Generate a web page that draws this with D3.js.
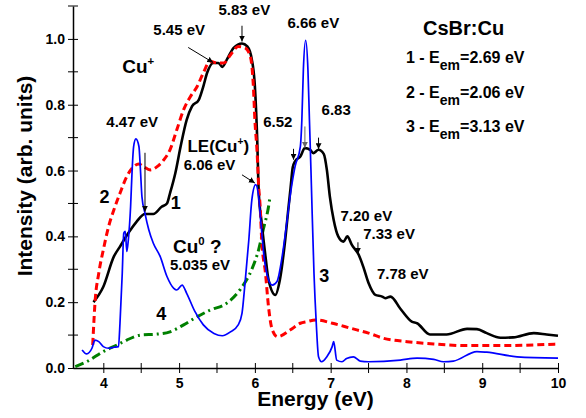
<!DOCTYPE html>
<html>
<head>
  <meta charset="utf-8">
  <title>CsBr:Cu excitation spectra</title>
  <style>
    body { margin: 0; background: #fff; }
    text { font-family: Arial, "Liberation Sans", sans-serif; }
  </style>
</head>
<body>
  <svg id="main" width="586" height="418"></svg>

  <script src="https://cdn.jsdelivr.net/npm/d3@7"></script>
  <script>
    // spectrum 1 (E_em = 2.69 eV), black solid: [energy, intensity]
    const curve1 = [
      [3.87, 0.200], [4.00, 0.247], [4.14, 0.339], [4.22, 0.369], [4.33, 0.410], [4.44, 0.445],
      [4.55, 0.468], [4.66, 0.468], [4.77, 0.490], [4.84, 0.500], [4.88, 0.531], [4.95, 0.592],
      [5.02, 0.673], [5.10, 0.754], [5.17, 0.795], [5.26, 0.815], [5.32, 0.856], [5.37, 0.897],
      [5.45, 0.927], [5.52, 0.927], [5.57, 0.915], [5.63, 0.937], [5.72, 0.973], [5.83, 0.986],
      [5.90, 0.977], [5.96, 0.937], [6.00, 0.856], [6.03, 0.700], [6.05, 0.540], [6.09, 0.440],
      [6.14, 0.339], [6.18, 0.268], [6.27, 0.222], [6.33, 0.268], [6.40, 0.389], [6.44, 0.480],
      [6.47, 0.545], [6.50, 0.610], [6.53, 0.628], [6.60, 0.643], [6.66, 0.668], [6.73, 0.663],
      [6.77, 0.653], [6.84, 0.663], [6.91, 0.650], [6.95, 0.602], [6.99, 0.520], [7.04, 0.450],
      [7.10, 0.400], [7.17, 0.384], [7.22, 0.400], [7.28, 0.374], [7.37, 0.344], [7.43, 0.308],
      [7.50, 0.258], [7.59, 0.222], [7.68, 0.217], [7.72, 0.212], [7.79, 0.217], [7.92, 0.180],
      [8.07, 0.141], [8.14, 0.136], [8.31, 0.102], [8.53, 0.102], [8.80, 0.119], [8.93, 0.118],
      [9.06, 0.106], [9.24, 0.092], [9.41, 0.093], [9.68, 0.106], [9.85, 0.102], [10.0, 0.098]
    ]

    // spectrum 2 (E_em = 2.06 eV), red dashed
    const curve2 = [
      [3.86, 0.070], [3.87, 0.116], [3.89, 0.197], [3.94, 0.288], [4.00, 0.359], [4.07, 0.430],
      [4.14, 0.481], [4.22, 0.531], [4.31, 0.582], [4.40, 0.612], [4.47, 0.620], [4.53, 0.612],
      [4.62, 0.602], [4.71, 0.612], [4.80, 0.633], [4.88, 0.663], [4.97, 0.724], [5.06, 0.785],
      [5.15, 0.825], [5.24, 0.856], [5.32, 0.897], [5.41, 0.932], [5.50, 0.927], [5.59, 0.927],
      [5.68, 0.952], [5.78, 0.977], [5.87, 0.973], [5.94, 0.947], [5.98, 0.856], [6.00, 0.754],
      [6.03, 0.653], [6.05, 0.552], [6.07, 0.490], [6.09, 0.389], [6.14, 0.288], [6.18, 0.186],
      [6.23, 0.116], [6.30, 0.095], [6.47, 0.116], [6.60, 0.136], [6.69, 0.141], [6.80, 0.146],
      [7.04, 0.135], [7.26, 0.121], [7.50, 0.106], [7.70, 0.090], [8.01, 0.080], [8.36, 0.073],
      [8.80, 0.068], [9.24, 0.068], [9.68, 0.070], [10.0, 0.073]
    ]

    // spectrum 3 (E_em = 3.13 eV), blue thin
    const curve3 = [
      [3.72, 0.055], [3.78, 0.043], [3.85, 0.060], [3.89, 0.085], [3.94, 0.080], [4.00, 0.065],
      [4.07, 0.060], [4.14, 0.063], [4.20, 0.065], [4.22, 0.136], [4.25, 0.288], [4.27, 0.410],
      [4.29, 0.415], [4.31, 0.354], [4.33, 0.389], [4.36, 0.490], [4.38, 0.600], [4.40, 0.673],
      [4.43, 0.696], [4.47, 0.673], [4.49, 0.602], [4.51, 0.520], [4.55, 0.470], [4.60, 0.420],
      [4.66, 0.379], [4.75, 0.339], [4.84, 0.278], [4.93, 0.242], [4.97, 0.237], [5.04, 0.252],
      [5.10, 0.227], [5.21, 0.171], [5.32, 0.131], [5.46, 0.105], [5.57, 0.098], [5.68, 0.110],
      [5.78, 0.131], [5.83, 0.166], [5.87, 0.258], [5.92, 0.389], [5.96, 0.511], [6.01, 0.557],
      [6.05, 0.520], [6.08, 0.440], [6.12, 0.340], [6.18, 0.268], [6.23, 0.252], [6.29, 0.262],
      [6.36, 0.339], [6.42, 0.440], [6.47, 0.530], [6.53, 0.612], [6.60, 0.673], [6.62, 0.754],
      [6.64, 0.907], [6.67, 0.996], [6.70, 0.907], [6.72, 0.754], [6.74, 0.602], [6.75, 0.520],
      [6.78, 0.288], [6.81, 0.136], [6.84, 0.034], [6.88, 0.019], [6.95, 0.034], [7.02, 0.065],
      [7.04, 0.080], [7.08, 0.024], [7.15, 0.019], [7.21, 0.029], [7.30, 0.034], [7.39, 0.021],
      [7.50, 0.019], [7.92, 0.024], [8.14, 0.030], [8.36, 0.026], [8.49, 0.019], [8.62, 0.021],
      [8.93, 0.050], [9.06, 0.048], [9.46, 0.034], [10.0, 0.030]
    ]

    // spectrum 4, green dash-dot
    const curve4 = [
      [3.63, 0.004], [3.78, 0.019], [4.00, 0.050], [4.18, 0.070], [4.31, 0.085], [4.49, 0.100],
      [4.71, 0.103], [4.88, 0.110], [5.06, 0.131], [5.24, 0.156], [5.41, 0.176], [5.63, 0.197],
      [5.81, 0.240], [5.96, 0.300], [6.05, 0.360], [6.11, 0.420], [6.18, 0.490], [6.20, 0.520]
    ]

    const xTicks = [4, 5, 6, 7, 8, 9, 10]
    const xMinor = [4.5, 5.5, 6.5, 7.5, 8.5, 9.5]
    const yTicks = [0, 0.2, 0.4, 0.6, 0.8, 1.0]
    const yMinor = [0.1, 0.3, 0.5, 0.7, 0.9, 1.1]

    const legendTitle = 'CsBr:Cu'
    const legendItems = [['1', '2.69'], ['2', '2.06'], ['3', '3.13']]

    const svg = d3.select('#main')
    const width = +svg.attr('width')
    const height = +svg.attr('height')
    const margin = { top: 6, right: 28, bottom: 50, left: 73 }
    const innerWidth = width - margin.left - margin.right
    const innerHeight = height - margin.top - margin.bottom

    const x = d3.scaleLinear().domain([3.6, 10]).range([0, innerWidth])
    const y = d3.scaleLinear().domain([0, 1.1]).range([innerHeight, 0])

    const chart = svg.append('g')
      .attr('transform', `translate(${margin.left},${margin.top})`)

    // axes
    const xAxis = chart.append('g')
      .attr('transform', `translate(0,${innerHeight})`)
      .call(d3.axisBottom(x).tickValues(xTicks).tickFormat(d3.format('d')).tickSize(5).tickSizeOuter(0).tickPadding(5))
    xAxis.selectAll('.tick line').attr('y1', -5)
    const yAxis = chart.append('g')
      .call(d3.axisLeft(y).tickValues(yTicks).tickFormat(d3.format('.1f')).tickSize(5).tickSizeOuter(0).tickPadding(3))
    yAxis.selectAll('.tick line').attr('x1', 5)

    chart.append('g').selectAll('line').data(xMinor).join('line')
      .attr('x1', d => x(d)).attr('x2', d => x(d))
      .attr('y1', innerHeight - 5).attr('y2', innerHeight + 5)
      .attr('stroke', '#000')
    chart.append('g').selectAll('line').data(yMinor).join('line')
      .attr('y1', d => y(d)).attr('y2', d => y(d))
      .attr('x1', -5).attr('x2', 5)
      .attr('stroke', '#000')

    chart.selectAll('.domain').attr('stroke', '#000').attr('stroke-width', 1.5)
    chart.selectAll('.tick text')
      .attr('font-size', 14).attr('font-weight', 'bold').attr('fill', '#000')
      .attr('font-family', 'Arial, "Liberation Sans", sans-serif')

    svg.append('text')
      .attr('transform', `translate(${margin.left + innerWidth / 2},406)`)
      .attr('text-anchor', 'middle')
      .attr('font-size', 21).attr('font-weight', 'bold')
      .text('Energy (eV)')
    svg.append('text')
      .attr('transform', 'translate(32,176) rotate(-90)')
      .attr('text-anchor', 'middle')
      .attr('font-size', 21).attr('font-weight', 'bold')
      .text('Intensity (arb. units)')

    // curves
    const line = d3.line()
      .x(d => x(d[0]))
      .y(d => y(d[1]))
      .curve(d3.curveMonotoneX)

    chart.append('path').datum(curve4)
      .attr('d', line).attr('fill', 'none')
      .attr('stroke', '#008000').attr('stroke-width', 3)
      .attr('stroke-dasharray', '9,4,2,4')
    chart.append('path').datum(curve1)
      .attr('d', line).attr('fill', 'none')
      .attr('stroke', '#000').attr('stroke-width', 2.6)
    chart.append('path').datum(curve2)
      .attr('d', line).attr('fill', 'none')
      .attr('stroke', '#ff0000').attr('stroke-width', 3)
      .attr('stroke-dasharray', '7,4')
    chart.append('path').datum(curve3)
      .attr('d', line).attr('fill', 'none')
      .attr('stroke', '#0000ff').attr('stroke-width', 1.7)

    // arrow markers
    const defs = svg.append('defs')
    ;[['arrowBlack', '#000'], ['arrowGrey', '#666']].forEach(([id, c]) => {
      defs.append('marker')
        .attr('id', id)
        .attr('viewBox', '0 0 10 10')
        .attr('refX', 10).attr('refY', 5)
        .attr('markerWidth', 6).attr('markerHeight', 6)
        .attr('markerUnits', 'userSpaceOnUse')
        .attr('orient', 'auto')
        .append('path').attr('d', 'M0,0L10,5L0,10z').attr('fill', c)
    })

    const arrows = [
      { x1: 5.12, y1: 0.974, x2: 5.45, y2: 0.928, c: 'Black' },
      { x1: 5.83, y1: 1.040, x2: 5.83, y2: 0.992, c: 'Black' },
      { x1: 4.55, y1: 0.654, x2: 4.55, y2: 0.475, c: 'Black' },
      { x1: 5.83, y1: 0.587, x2: 6.00, y2: 0.562, c: 'Black' },
      { x1: 6.51, y1: 0.666, x2: 6.51, y2: 0.633, c: 'Black' },
      { x1: 6.66, y1: 0.734, x2: 6.66, y2: 0.669, c: 'Grey' },
      { x1: 6.84, y1: 0.700, x2: 6.84, y2: 0.665, c: 'Black' },
      { x1: 7.36, y1: 0.382, x2: 7.36, y2: 0.347, c: 'Black' }
    ]
    chart.append('g').selectAll('line').data(arrows).join('line')
      .attr('x1', d => x(d.x1)).attr('y1', d => y(d.y1))
      .attr('x2', d => x(d.x2)).attr('y2', d => y(d.y2))
      .attr('stroke', d => d.c === 'Grey' ? '#666' : '#000')
      .attr('stroke-width', 1)
      .attr('marker-end', d => `url(#arrow${d.c})`)

    // peak labels
    const labels = [
      { t: '5.45 eV', x: 4.66, y: 1.013 },
      { t: '5.83 eV', x: 5.52, y: 1.074 },
      { t: '6.66 eV', x: 6.43, y: 1.034 },
      { t: '4.47 eV', x: 4.04, y: 0.733 },
      { t: '6.06 eV', x: 5.06, y: 0.602 },
      { t: '6.52', x: 6.11, y: 0.733 },
      { t: '6.83', x: 6.88, y: 0.770 },
      { t: '7.20 eV', x: 7.13, y: 0.447 },
      { t: '7.33 eV', x: 7.43, y: 0.392 },
      { t: '7.78 eV', x: 7.61, y: 0.270 },
      { t: '5.035 eV', x: 4.88, y: 0.298 }
    ]
    chart.append('g').selectAll('text').data(labels).join('text')
      .attr('x', d => x(d.x)).attr('y', d => y(d.y))
      .attr('font-size', 15).attr('font-weight', 'bold')
      .text(d => d.t)

    const curveNums = [
      { t: '1', x: 4.89, y: 0.484 },
      { t: '2', x: 3.95, y: 0.502 },
      { t: '3', x: 6.85, y: 0.262 },
      { t: '4', x: 4.70, y: 0.146 }
    ]
    chart.append('g').selectAll('text').data(curveNums).join('text')
      .attr('x', d => x(d.x)).attr('y', d => y(d.y))
      .attr('font-size', 18).attr('font-weight', 'bold')
      .text(d => d.t)

    // ion labels with superscripts
    function supLabel(px, py, base, sup, size, tail) {
      const t = chart.append('text')
        .attr('x', x(px)).attr('y', y(py))
        .attr('font-size', size).attr('font-weight', 'bold')
      t.append('tspan').text(base)
      t.append('tspan').attr('dy', -size * 0.4).attr('font-size', size * 0.6).text(sup)
      if (tail) t.append('tspan').attr('dy', size * 0.4).text(tail)
    }
    supLabel(4.25, 0.897, 'Cu', '+', 19)
    supLabel(5.11, 0.657, 'LE(Cu', '+', 17, ')')
    supLabel(4.92, 0.350, 'Cu', '0', 19, ' ?')

    // legend block
    svg.append('text')
      .attr('x', 423).attr('y', 35)
      .attr('font-size', 20).attr('font-weight', 'bold')
      .text(legendTitle)
    legendItems.forEach((d, i) => {
      const t = svg.append('text')
        .attr('x', 406).attr('y', 63 + i * 34.5)
        .attr('font-size', 16).attr('font-weight', 'bold')
      t.append('tspan').text(`${d[0]} - E`)
      t.append('tspan').attr('dy', 7).attr('font-size', 14).text('em')
      t.append('tspan').attr('dy', -7).text(`=${d[1]} eV`)
    })
  </script>
</body>
</html>
